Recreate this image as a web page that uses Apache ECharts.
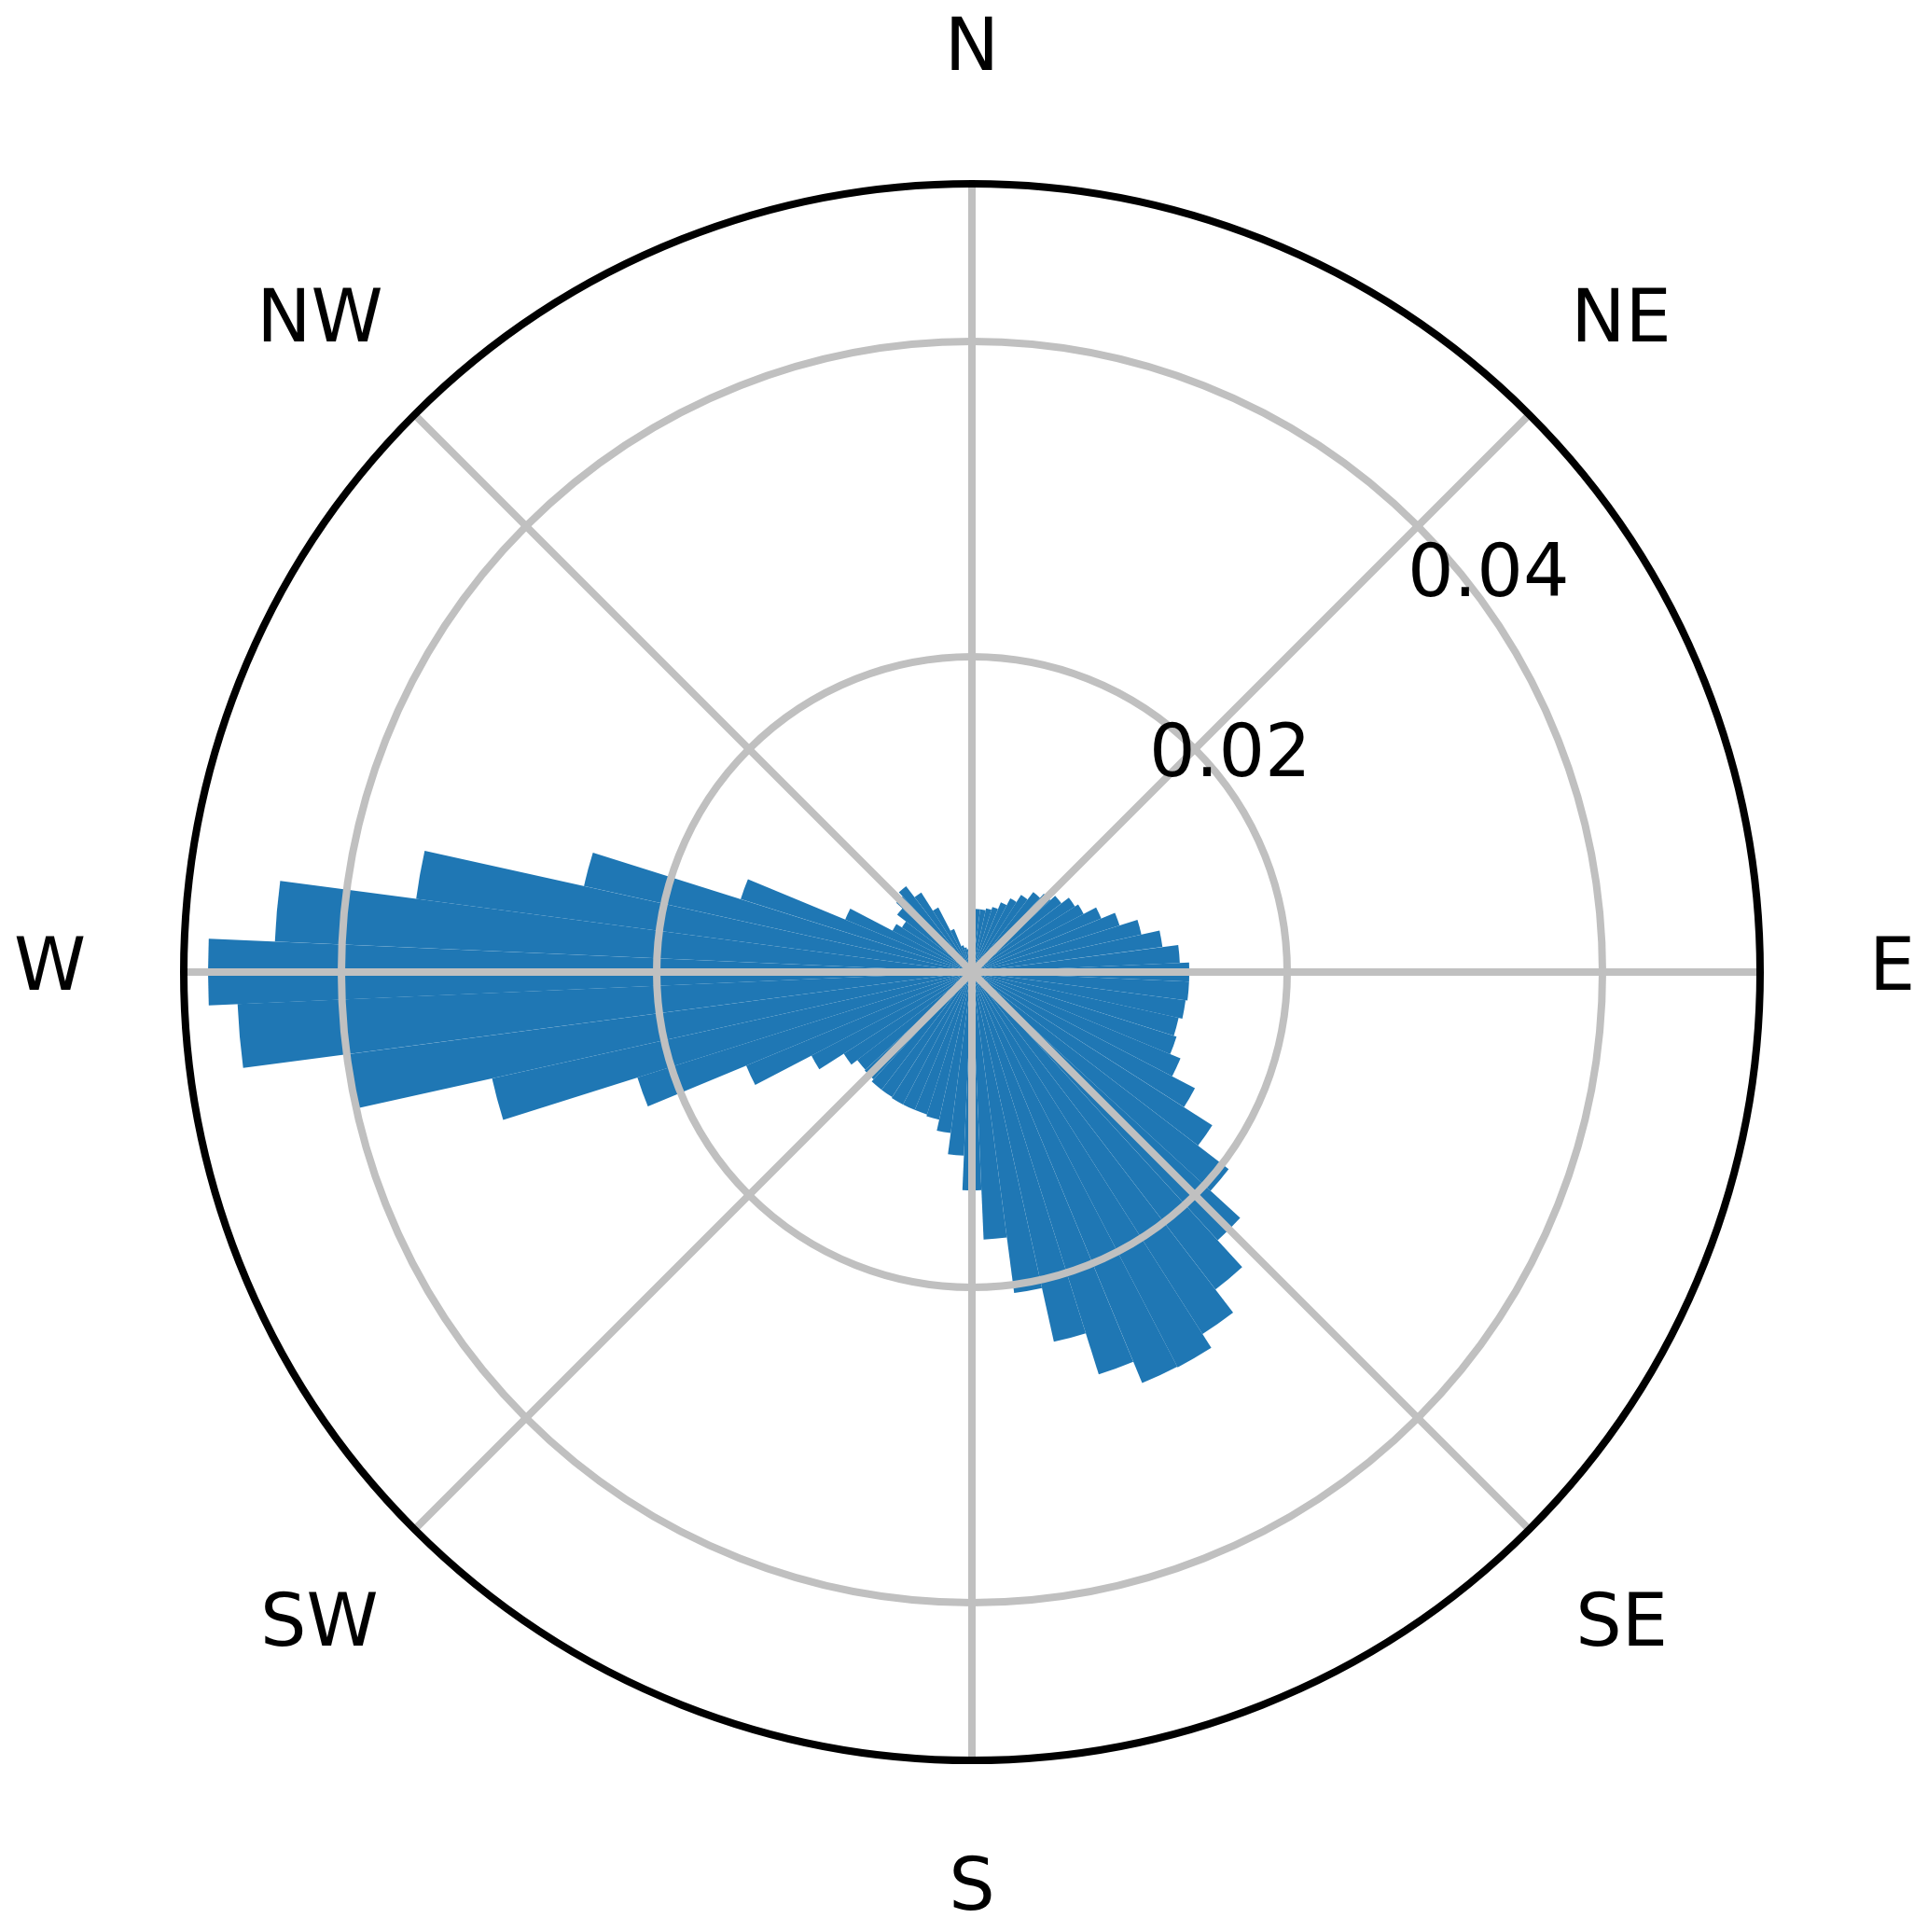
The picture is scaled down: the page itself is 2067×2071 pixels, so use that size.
<!DOCTYPE html>
<html>
<head>
<meta charset="utf-8">
<script src="https://cdn.jsdelivr.net/npm/echarts@6/dist/echarts.min.js"></script>
<style>
html,body{margin:0;padding:0;background:#ffffff;}
#chart{width:2067px;height:2071px;}
</style>
</head>
<body>
<div id="chart"></div>
<script>
// Direction bins (compass bearing of bin centre, degrees clockwise from North)
const bearings = [
  0, 5, 10, 15, 20, 25, 30, 35, 40, 45, 50, 55,
  60, 65, 70, 75, 80, 85, 90, 95, 100, 105, 110, 115,
  120, 125, 130, 135, 140, 145, 150, 155, 160, 165, 170, 175,
  180, 185, 190, 195, 200, 205, 210, 215, 220, 225, 230, 235,
  240, 245, 250, 255, 260, 265, 270, 275, 280, 285, 290, 295,
  300, 305, 310, 315, 320, 325, 330, 335, 340, 345, 350, 355
];
// Relative frequency per bin
const frequency = [
  0.00408, 0.00402, 0.00402, 0.00414, 0.00432, 0.00479, 0.00527, 0.00580, 0.00639, 0.00675, 0.00716, 0.00775,
  0.00799, 0.00888, 0.00982, 0.01101, 0.01219, 0.01320, 0.01379, 0.01379, 0.01367, 0.01343, 0.01361, 0.01432,
  0.01595, 0.01808, 0.02053, 0.02308, 0.02538, 0.02722, 0.02826, 0.02822, 0.02675, 0.02402, 0.02053, 0.01698,
  0.01385, 0.01166, 0.01030, 0.00959, 0.00947, 0.00947, 0.00947, 0.00941, 0.00941, 0.00923, 0.00917, 0.00964,
  0.01148, 0.01550, 0.02225, 0.03118, 0.04000, 0.04663, 0.04846, 0.04426, 0.03556, 0.02521, 0.01538, 0.00870,
  0.00568, 0.00527, 0.00598, 0.00651, 0.00686, 0.00598, 0.00462, 0.00296, 0.00178, 0.00160, 0.00148, 0.00166
];
// Compass tick labels
const compassNames = ['N', 'NE', 'E', 'SE', 'S', 'SW', 'W', 'NW'];
const compassAngles = [0, 45, 90, 135, 180, 225, 270, 315];
// Radial tick labels
const radialTicks = [0.02, 0.04];
const radialMax = 0.05;

const FONT = '"DejaVu Sans", sans-serif';
const FS = 78;
const CX = 1042, CY = 1042, R = 845;
const GRID = '#c0c0c0';

const labelPad = {
  N: [0, 0, 68, 0], NE: [0, 0, 35, 20], E: [0, 0, 2, 82], SE: [40, 0, 0, 25],
  S: [66, 0, 0, 0], SW: [40, 14, 0, 0], W: [0, 70, 2, 0], NW: [0, 9, 35, 0]
};
const rich = {};
compassNames.forEach(function (n) {
  rich[n] = { fontSize: FS, fontFamily: FONT, color: '#000000', padding: labelPad[n] };
});

const chart = echarts.init(document.getElementById('chart'), null, { renderer: 'canvas' });
const option = {
  animation: false,
  backgroundColor: '#ffffff',
  polar: [
    { center: [CX, CY], radius: [0, R] },
    { center: [CX, CY], radius: [0, R] },
    { center: [CX, CY], radius: [0, R] }
  ],
  angleAxis: [
    {
      polarIndex: 0, type: 'category', data: bearings, startAngle: 92.5, clockwise: true,
      boundaryGap: true,
      axisLine: { show: false }, axisTick: { show: false }, axisLabel: { show: false },
      splitLine: { show: false }, splitArea: { show: false }
    },
    {
      polarIndex: 1, type: 'value', min: 0, max: 360, interval: 45, startAngle: 90, clockwise: true,
      z: 10,
      axisLine: { show: true, lineStyle: { color: '#000000', width: 8 } },
      axisTick: { show: false },
      splitLine: { show: true, lineStyle: { color: GRID, width: 8 } },
      axisLabel: {
        show: true, margin: 35,
        formatter: function (v) {
          const i = compassAngles.indexOf(v);
          if (i < 0) return '';
          return '{' + compassNames[i] + '|' + compassNames[i] + '}';
        },
        rich: rich
      }
    },
    {
      polarIndex: 2, type: 'value', min: 0, max: 360, startAngle: 35, clockwise: true, show: false
    }
  ],
  radiusAxis: [
    { polarIndex: 0, type: 'value', min: 0, max: radialMax, show: false },
    {
      polarIndex: 1, type: 'value', min: 0, max: radialMax, interval: 0.02, z: 10,
      axisLine: { show: false }, axisTick: { show: false }, axisLabel: { show: false },
      splitLine: { show: true, lineStyle: { color: [GRID, GRID, GRID, 'rgba(0,0,0,0)'], width: 8 } }
    },
    {
      polarIndex: 2, type: 'value', min: 0, max: radialMax, interval: 0.02, z: 11,
      axisLine: { show: false }, axisTick: { show: false }, splitLine: { show: false },
      axisLabel: {
        show: true, margin: 0, align: 'center', verticalAlign: 'bottom',
        lineHeight: 72,
        fontSize: FS, fontFamily: FONT, color: '#000000',
        formatter: function (v) {
          return radialTicks.some(function (t) { return Math.abs(t - v) < 1e-9; }) ? v.toFixed(2) : '';
        }
      }
    }
  ],
  series: [
    {
      type: 'bar', coordinateSystem: 'polar', polarIndex: 0,
      data: frequency, barCategoryGap: '0%', barGap: '0%',
      itemStyle: { color: '#1f77b4' }, z: 2
    }
  ]
};
chart.setOption(option);
</script>
</body>
</html>
